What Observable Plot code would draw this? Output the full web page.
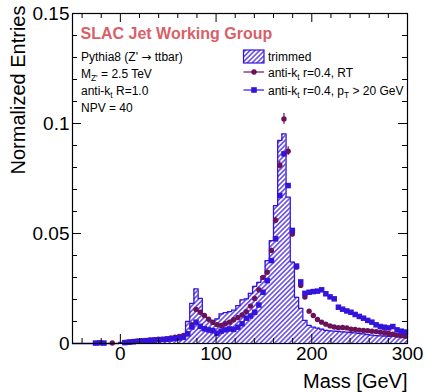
<!DOCTYPE html>
<html>
<head>
<meta charset="utf-8">
<script src="https://cdn.jsdelivr.net/npm/d3@7"></script>
<script src="https://cdn.jsdelivr.net/npm/@observablehq/plot@0.6"></script>
<style>
  body { margin: 0; background: #fff; }
  #chart svg { display: block; }
</style>
</head>
<body>
<div id="chart"></div>
<script>
// Jet mass distributions: 80 bins of 4.375 GeV from -50 to 300 GeV
const massMin = -50;
const binWidth = 4.375;

// Trimmed anti-kt R=1.0 jets (hatched histogram)
const trimmed = [
  0, 0, 0, 0, 0, 0, 0, 0, 0, 0,
  0, 0.0005, 0.0010, 0.0012, 0.0013, 0.0014, 0.0015, 0.0016, 0.0017, 0.0018,
  0.0019, 0.0020, 0.0021, 0.0023, 0.0027, 0.0031, 0.0036, 0.0100, 0.0182, 0.0248,
  0.0205, 0.0130, 0.0110, 0.0105, 0.0112, 0.0135, 0.0140, 0.0145, 0.0152, 0.0172,
  0.0198, 0.0203, 0.0228, 0.0260, 0.0278, 0.0305, 0.0377, 0.0468, 0.0627, 0.0923,
  0.0953, 0.0665, 0.0370, 0.0210, 0.0160, 0.0105, 0.0082, 0.0074, 0.0070, 0.0065,
  0.0060, 0.0057, 0.0056, 0.0055, 0.0053, 0.0052, 0.0050, 0.0048, 0.0046, 0.0044,
  0.0040, 0.0038, 0.0036, 0.0035, 0.0034, 0.0033, 0.0032, 0.0031, 0.0030, 0.0029
];

// anti-kt r=0.4 subjets, RT (circles)
const rtJets = [
  null, null, null, null, null, null, null, null, null, 0.0002,
  null, null, 0.0005, 0.0007, 0.0009, 0.0011, 0.0013, 0.0014, 0.0016, 0.0017,
  0.0019, 0.0020, 0.0022, 0.0025, 0.0029, 0.0032, 0.0037, 0.0044, 0.0085, 0.0155,
  0.0142, 0.0127, 0.0110, 0.0096, 0.0086, 0.0082, 0.0090, 0.0097, 0.0108, 0.0118,
  0.0130, 0.0145, 0.0170, 0.0205, 0.0244, 0.0300, 0.0324, 0.0423, 0.0560, 0.0810,
  0.1021, 0.0874, 0.0498, 0.0347, 0.0264, 0.0211, 0.0147, 0.0127, 0.0109, 0.0097,
  0.0088, 0.0080, 0.0075, 0.0072, 0.0073, 0.0071, 0.0065, 0.0064, 0.0061, 0.0059,
  0.0058, 0.0056, 0.0054, 0.0051, 0.0049, 0.0046, 0.0042, 0.0038, 0.0035, 0.0033
];

// anti-kt r=0.4 subjets, pT > 20 GeV (squares)
const ptJets = [
  null, null, null, null, null, 0.0002, 0.0003, 0.0002, null, null,
  null, null, 0.0004, 0.0006, 0.0008, 0.0010, 0.0011, 0.0012, 0.0014, 0.0015,
  0.0017, 0.0018, 0.0019, 0.0021, 0.0023, 0.0025, 0.0028, 0.0044, 0.0075, 0.0097,
  0.0078, 0.0067, 0.0062, 0.0058, 0.0047, 0.0056, 0.0062, 0.0066, 0.0064, 0.0074,
  0.0090, 0.0115, 0.0125, 0.0142, 0.0175, 0.0233, 0.0286, 0.0377, 0.0476, 0.0673,
  0.0862, 0.0718, 0.0514, 0.0352, 0.0280, 0.0228, 0.0233, 0.0236, 0.0238, 0.0244,
  0.0226, 0.0212, 0.0203, 0.0165, 0.0156, 0.0148, 0.0142, 0.0132, 0.0123, 0.0115,
  0.0105, 0.0097, 0.0085, 0.0077, 0.0074, 0.0071, 0.0077, 0.0062, 0.0056, 0.0052
];

// Statistical errors on the RT points around the top peak (bin index, error)
const rtErrBins = [47, 48, 49, 50, 51, 52];
const rtErr = [0.0010, 0.0013, 0.0017, 0.0024, 0.0020, 0.0014];

// Axis ticks
const xMajor = [0, 100, 200, 300];
const xMinor = [-40, -20, 20, 40, 60, 80, 120, 140, 160, 180, 220, 240, 260, 280];
const yMajor = [0, 0.05, 0.1, 0.15];
const yMinor = [0.01, 0.02, 0.03, 0.04, 0.06, 0.07, 0.08, 0.09, 0.11, 0.12, 0.13, 0.14];

const BLUE = "#3414dc";
const PURPLE = "#6a1259";
const FONT = "'Liberation Sans', Arial, Helvetica, sans-serif";

const bins = trimmed.map((v, i) => ({
  lo: massMin + i * binWidth,
  mid: massMin + (i + 0.5) * binWidth,
  trimmed: v,
  rt: rtJets[i],
  pt: ptJets[i]
}));
const steps = bins.map(b => ({x: b.lo, y: b.trimmed}))
  .concat([{x: massMin + bins.length * binWidth, y: trimmed[trimmed.length - 1]}]);
const errRows = rtErrBins.map((k, j) => ({x: bins[k].mid, lo: rtJets[k] - rtErr[j], hi: rtJets[k] + rtErr[j]}));

const W = 426, H = 392, mt = 13, mr = 19, mb = 49, ml = 72;
const innerW = W - ml - mr, innerH = H - mt - mb;
const majorLen = 9, minorLen = 5;

const chart = Plot.plot({
  width: W,
  height: H,
  marginTop: mt,
  marginRight: mr,
  marginBottom: mb,
  marginLeft: ml,
  style: {fontFamily: FONT, background: "white", overflow: "visible", color: "black"},
  x: {domain: [-50, 300]},
  y: {domain: [0, 0.15]},
  marks: [
    Plot.areaY(steps, {x: "x", y: "y", curve: "step-after", fill: "url(#hatch)"}),
    Plot.lineY(steps, {x: "x", y: "y", curve: "step-after", stroke: BLUE, strokeWidth: 1.3}),
    Plot.ruleX(errRows, {x: "x", y1: "lo", y2: "hi", stroke: PURPLE, strokeWidth: 1.2}),
    Plot.dot(bins.filter(b => b.rt != null), {x: "mid", y: "rt", r: 2.7, fill: PURPLE, stroke: null}),
    Plot.dot(bins.filter(b => b.pt != null), {x: "mid", y: "pt", r: 3.1, symbol: "square", fill: BLUE, stroke: null}),
    Plot.frame({stroke: "black", strokeWidth: 1.2}),
    // inward ticks on all four sides
    Plot.ruleX(xMajor, {insetTop: innerH - majorLen, stroke: "black"}),
    Plot.ruleX(xMinor, {insetTop: innerH - minorLen, stroke: "black"}),
    Plot.ruleX(xMajor, {insetBottom: innerH - majorLen, stroke: "black"}),
    Plot.ruleX(xMinor, {insetBottom: innerH - minorLen, stroke: "black"}),
    Plot.ruleY(yMajor, {insetRight: innerW - majorLen, stroke: "black"}),
    Plot.ruleY(yMinor, {insetRight: innerW - minorLen, stroke: "black"}),
    Plot.ruleY(yMajor, {insetLeft: innerW - majorLen, stroke: "black"}),
    Plot.ruleY(yMinor, {insetLeft: innerW - minorLen, stroke: "black"}),
    Plot.axisX(xMajor, {tickSize: 0, tickPadding: 3, fontSize: 19, label: null, tickFormat: d => String(d)}),
    Plot.axisY(yMajor, {tickSize: 0, tickPadding: 3, fontSize: 19, label: null, tickFormat: d => String(d)}),
    Plot.text(["Normalized Entries"], {frameAnchor: "top-left", rotate: -90, textAnchor: "end", lineAnchor: "middle", dx: -54, dy: -8, fontSize: 20}),
    Plot.text(["Mass [GeV]"], {frameAnchor: "bottom-right", textAnchor: "end", lineAnchor: "middle", dy: 38, fontSize: 20})
  ]
});

document.getElementById("chart").appendChild(chart);

const svg = d3.select(chart);

// hatch pattern for the trimmed histogram
const defs = svg.insert("defs", ":first-child");
const pat = defs.append("pattern")
  .attr("id", "hatch")
  .attr("patternUnits", "userSpaceOnUse")
  .attr("width", 3.4)
  .attr("height", 3.4)
  .attr("patternTransform", "rotate(45)");
pat.append("rect").attr("width", 3.4).attr("height", 3.4).attr("fill", "white");
pat.append("line")
  .attr("x1", 1.7).attr("y1", 0).attr("x2", 1.7).attr("y2", 3.4)
  .attr("stroke", BLUE).attr("stroke-width", 1.2);

// text with subscripts: parts are [text, isSubscript, optional font family]
function richText(g, x, y, parts, size) {
  const t = g.append("text").attr("x", x).attr("y", y).attr("font-size", size);
  let shifted = false;
  for (const [s, sub, family] of parts) {
    const sp = t.append("tspan").text(s);
    if (family) sp.attr("font-family", family);
    if (sub && !shifted) { sp.attr("dy", 3).attr("font-size", size * 0.7); shifted = true; }
    else if (sub) { sp.attr("font-size", size * 0.7); }
    else if (shifted) { sp.attr("dy", -3); shifted = false; }
  }
  return t;
}

const ann = svg.append("g").attr("font-family", FONT).attr("fill", "black").attr("text-anchor", "start");
ann.append("text")
  .attr("x", 80.5).attr("y", 39)
  .attr("font-size", 16).attr("font-weight", "bold").attr("fill", "#d95f69")
  .text("SLAC Jet Working Group");
richText(ann, 81, 60.5, [["Pythia8 (Z' ", false], ["\u2192", false, "'DejaVu Sans'"], [" ttbar)", false]], 12);
richText(ann, 81, 77.5, [["M", false], ["Z'", true], [" = 2.5 TeV", false]], 12);
richText(ann, 81, 94.5, [["anti-k", false], ["t", true], [" R=1.0", false]], 12);
richText(ann, 81, 112, [["NPV = 40", false]], 12);

// legend
const leg = svg.append("g").attr("font-family", FONT).attr("fill", "black").attr("text-anchor", "start");
leg.append("rect")
  .attr("x", 243.5).attr("y", 50).attr("width", 20.5).attr("height", 13)
  .attr("fill", "url(#hatch)").attr("stroke", BLUE).attr("stroke-width", 1.2);
richText(leg, 268, 60.5, [["trimmed", false]], 12);

leg.append("line").attr("x1", 243.5).attr("x2", 264).attr("y1", 72).attr("y2", 72)
  .attr("stroke", PURPLE).attr("stroke-width", 1.2);
leg.append("circle").attr("cx", 254).attr("cy", 72).attr("r", 2.7).attr("fill", PURPLE);
richText(leg, 268, 76.5, [["anti-k", false], ["t", true], [" r=0.4, RT", false]], 12);

leg.append("line").attr("x1", 243.5).attr("x2", 264).attr("y1", 90).attr("y2", 90)
  .attr("stroke", BLUE).attr("stroke-width", 1.2);
leg.append("rect").attr("x", 251.2).attr("y", 87.2).attr("width", 5.6).attr("height", 5.6).attr("fill", BLUE);
richText(leg, 268, 94.5, [["anti-k", false], ["t", true], [" r=0.4, p", false], ["T", true], [" > 20 GeV", false]], 12);
</script>
</body>
</html>
